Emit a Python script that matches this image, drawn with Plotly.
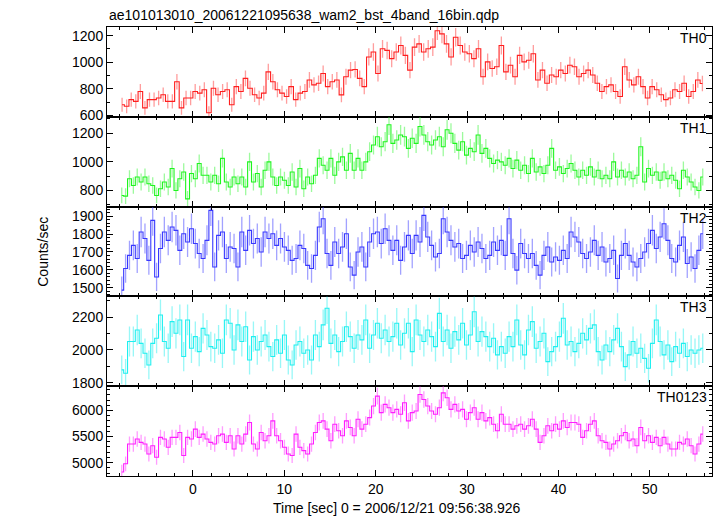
import plotly.graph_objects as go

# ---------------- data ----------------
T_START, T_END = -8.0, 56.0
BIN_SEC = 0.25  # original binning used for Poisson error bars

th0 = [681, 669, 719, 706, 780, 657, 719, 719, 731, 756, 706, 706, 854, 657, 731, 731, 780, 768, 793, 620,
       805, 756, 780, 793, 681, 817, 780, 879, 805, 756, 731, 768, 928, 854, 793, 768, 743, 817, 719, 768,
       780, 867,
       830, 842, 916, 817, 854, 867, 755, 891, 941, 946, 879, 817, 1040, 1077, 916, 1101, 1089, 1027, 1077, 1126,
       1052, 941, 1114, 1138, 1077, 1101, 1114, 1237, 1213, 1138, 1040, 1188, 1126, 1077, 1064, 1027, 1101, 891,
       1003, 953, 966, 1126, 928, 978,
       891, 1052, 1003, 1015, 1064, 867, 941, 842, 904, 891, 941, 916, 978, 966, 891, 916, 941, 904, 842, 780,
       817, 830, 780, 743, 966, 867, 830, 891, 817, 731, 817, 793, 756, 719, 731, 793, 780, 842, 743, 780,
       867, 840]

th1 = [765, 760, 882, 835, 894, 859, 894, 847, 835, 765, 812, 859, 824, 953, 800, 882, 929, 741, 918, 882,
       988, 906, 906, 859, 906, 847, 1024, 859, 824, 894, 847, 894, 824, 1000, 859, 918, 824, 941, 1000, 894,
       835, 894, 871, 835, 929, 824, 953, 812, 894, 847, 906, 1024, 976, 941, 1024, 906, 1000, 1035, 941, 1059,
       941, 1024, 941, 1000, 1071, 1118, 1176, 1106, 1141, 1259, 1129, 1153, 1188, 1176, 1094, 1165, 1129, 1247,
       1188, 1141, 1118, 1153, 1176, 1106, 1224, 1200, 1129, 1082, 1141, 1047, 1094, 1071, 1188, 1059, 1094, 1024,
       988, 1012, 1000, 976, 1024, 953, 1012, 941, 976, 918, 1024, 929, 965, 918, 976, 1094, 941, 965, 918, 953,
       988, 941, 894, 941, 906, 965, 894, 941, 882, 906, 882, 1000, 894, 941, 894, 929, 882, 906, 1106, 859,
       953, 906, 929, 871, 929, 882, 906, 871, 812, 941, 894, 859, 824, 800, 894]

th2 = [1486, 1607, 1681, 1737, 1663, 1812, 1775, 1653, 1877, 1560, 1719, 1812, 1765, 1840, 1821, 1709, 1802, 1756,
       1830, 1747, 1691, 1663, 1765, 1933, 1616, 1793, 1812, 1663, 1728, 1719, 1616, 1812, 1709, 1821, 1747, 1775,
       1700, 1812, 1775, 1802, 1737, 1775, 1728, 1709, 1653, 1663, 1737, 1719, 1625, 1607, 1681, 1840, 1886, 1691,
       1625, 1756, 1691, 1728, 1802, 1616, 1570, 1700, 1728, 1616, 1756, 1802, 1812, 1747, 1830, 1765, 1709, 1765,
       1653, 1728, 1793, 1691, 1793, 1756, 1905, 1784, 1737, 1672, 1691, 1886, 1812, 1765, 1728, 1747, 1663, 1681,
       1737, 1700, 1756, 1719, 1663, 1681, 1756, 1709, 1765, 1681, 1886, 1691, 1598, 1747, 1691, 1663, 1691, 1625,
       1570, 1681, 1728, 1644, 1672, 1653, 1709, 1663, 1812, 1784, 1756, 1691, 1663, 1700, 1765, 1681, 1728, 1644,
       1663, 1709, 1551, 1681, 1747, 1681, 1644, 1616, 1663, 1700, 1747, 1821, 1719, 1784, 1858, 1765, 1663, 1644,
       1737, 1784, 1635, 1672, 1607, 1709, 1802]

th3 = [1879, 1859, 2051, 2051, 2121, 2040, 1980, 1909, 2040, 2071, 2212, 2051, 2010, 2172, 2101, 2182, 1960, 2182,
       2010, 2081, 1990, 2131, 2091, 2020, 2010, 2061, 1980, 2182, 2162, 2000, 2152, 2051, 2141, 1939, 2081, 2000,
       2051, 2091, 2020, 1960, 2061, 1980, 2091, 1939, 1909, 2030, 2051, 1980, 2000, 1939, 2091, 2020, 2152, 2253,
       2040, 2091, 1990, 2051, 2141, 2081, 2010, 2091, 2061, 2182, 2010, 2091, 2162, 2071, 2121, 2051, 2081, 2162,
       2030, 2101, 2162, 1990, 2182, 2091, 2051, 2121, 2081, 2020, 2222, 2051, 2121, 2010, 2111, 2061, 2162, 2030,
       2091, 2232, 2051, 2111, 2081, 2020, 2071, 1970, 2020, 1980, 2081, 2020, 2182, 2030, 1970, 2121, 2172, 2010,
       2051, 2101, 1929, 1990, 2020, 2081, 2192, 2030, 2051, 1990, 2040, 2101, 2061, 2131, 2152, 1990, 1939, 2030,
       1990, 2061, 2131, 2020, 1899, 1970, 2051, 1980, 2010, 1949, 1889, 2040, 2182, 2051, 1970, 2030, 1929, 2020,
       1980, 2040, 1960, 2000, 1980, 2000, 2010]

th0123 = [4820, 4978, 5357, 5357, 5452, 5389, 5357, 5167, 5325, 5104, 5484, 5452, 5294, 5484, 5484, 5579, 5136, 5484,
          5452, 5642, 5484, 5547, 5452, 5389, 5357, 5516, 5547, 5389, 5516, 5262, 5516, 5357, 5547, 5769, 5357, 5262,
          5579, 5420, 5516, 5800, 5516, 5420, 5294, 5167, 5136, 5547, 5294, 5231, 5167, 5357, 5579, 5769, 5800, 5642,
          5420, 5737, 5611, 5516, 5800, 5674, 5516, 5832, 5642, 5737, 5863, 6085, 6275, 5958, 6116, 6053, 5958, 6021,
          5927, 6148, 5800, 5958, 5990, 6306, 6211, 6085, 5990, 5927, 6053, 6338, 6243, 6021, 6116, 5990, 6021, 5832,
          5958, 6053, 5832, 5958, 5800, 5863, 5737, 5611, 5927, 5737, 5737, 5642, 5706, 5737, 5642, 5706, 5832, 5642,
          5389, 5516, 5706, 5611, 5737, 5642, 5800, 5674, 5769, 5769, 5737, 5484, 5611, 5737, 5800, 5516, 5420, 5389,
          5262, 5357, 5420, 5516, 5579, 5420, 5452, 5325, 5674, 5420, 5516, 5389, 5484, 5325, 5484, 5357, 5262, 5262,
          5389, 5357, 5452, 5325, 5167, 5357, 5547]

band_names = ["TH0", "TH1", "TH2", "TH3", "TH0123"]
band_values = [th0, th1, th2, th3, th0123]
y_ranges = [[590, 1265], [687, 1315], [1451, 1954], [1780, 2325], [4744, 6465]]
y_dticks = [200, 200, 100, 200, 500]
y_minor = [100, 100, 20, 100, 100]
x_ticks = [0, 10, 20, 30, 40, 50]

line_colors = ["rgb(255,30,30)", "rgb(30,245,30)", "rgb(55,55,255)", "rgb(30,240,240)", "rgb(255,30,255)"]
err_colors = ["rgba(255,60,60,0.5)", "rgba(60,245,60,0.5)", "rgba(70,70,255,0.5)",
              "rgba(50,240,240,0.5)", "rgba(255,60,255,0.5)"]

FONT = "Liberation Sans, Arial, sans-serif"


def sfx(k):
    return "" if k == 1 else str(k)


fig = go.Figure()
n = len(band_values)
for i in range(n):
    vals = band_values[i]
    k = i + 1
    m = len(vals)
    w = (T_END - T_START) / m
    t = [T_START + (j + 0.5) * w for j in range(m)]
    err = [(v / BIN_SEC) ** 0.5 for v in vals]
    fig.add_trace(go.Scatter(
        x=t, y=vals, mode="lines", xaxis="x" + sfx(k), yaxis="y" + sfx(k),
        line=dict(color=line_colors[i], width=1.1, shape="hvh"),
        error_y=dict(type="data", array=err, visible=True, color=err_colors[i],
                     thickness=1.3, width=0),
        showlegend=False, hoverinfo="skip"))

layout = dict(
    width=717, height=516,
    margin=dict(l=107, r=5, t=27, b=40),
    paper_bgcolor="white", plot_bgcolor="white",
    font=dict(family=FONT, size=14, color="black"),
    showlegend=False,
)
for i in range(n):
    k = i + 1
    top = 1 - i / n
    bot = 1 - (i + 1) / n
    xa = dict(
        domain=[0, 1], anchor="y" + sfx(k), range=[-9.4, 56.8],
        tickmode="array", tickvals=x_ticks, ticktext=[str(v) for v in x_ticks],
        ticks="inside", ticklen=6, tickwidth=1, tickcolor="black",
        minor=dict(dtick=2, tick0=0, ticks="inside", ticklen=3, tickcolor="black", showgrid=False),
        showline=True, linecolor="black", linewidth=1, mirror="allticks",
        showgrid=False, zeroline=False,
        showticklabels=(k == n),
        tickfont=dict(family=FONT, size=14),
    )
    if k > 1:
        xa["matches"] = "x"
    layout["xaxis" + sfx(k)] = xa
    layout["yaxis" + sfx(k)] = dict(
        domain=[bot, top], anchor="x" + sfx(k), range=y_ranges[i],
        dtick=y_dticks[i], tick0=0,
        ticks="inside", ticklen=6, tickwidth=1, tickcolor="black",
        minor=dict(dtick=y_minor[i], tick0=0, ticks="inside", ticklen=3, tickcolor="black", showgrid=False),
        showline=True, linecolor="black", linewidth=1, mirror="allticks",
        showgrid=False, zeroline=False,
        tickfont=dict(family=FONT, size=14),
    )
fig.update_layout(**layout)

annotations = []
for i in range(n):
    k = i + 1
    annotations.append(dict(
        text=band_names[i], xref="x" + sfx(k) + " domain", yref="y" + sfx(k) + " domain",
        x=1, y=1, xanchor="right", yanchor="top", xshift=-3, yshift=-1,
        showarrow=False, font=dict(family=FONT, size=14, color="black")))
annotations.append(dict(
    text="ae101013010_20061221095638_wam2_bst_4band_16bin.qdp",
    xref="paper", yref="paper", x=0, y=1, xanchor="left", yanchor="bottom",
    xshift=0, yshift=2, showarrow=False, font=dict(family=FONT, size=14, color="black")))
annotations.append(dict(
    text="Counts/sec", xref="paper", yref="paper", x=-0.107, y=0.5,
    xanchor="center", yanchor="middle", textangle=-90,
    showarrow=False, font=dict(family=FONT, size=14, color="black")))
annotations.append(dict(
    text="Time [sec] 0 = 2006/12/21 09:56:38.926", xref="paper", yref="paper",
    x=0.48, y=-0.0713, xanchor="center", yanchor="middle",
    showarrow=False, font=dict(family=FONT, size=14, color="black")))
fig.update_layout(annotations=annotations)

fig.write_html("out.html", config={"displayModeBar": False},
               post_script="document.body.style.margin='0';document.body.style.padding='0';")
